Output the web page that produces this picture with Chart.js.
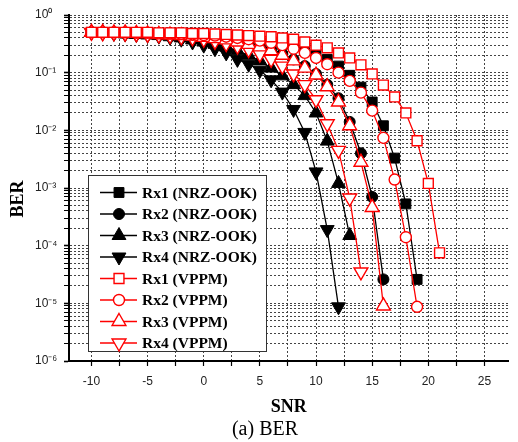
<!DOCTYPE html>
<html>
<head>
<meta charset="utf-8">
<script src="https://cdn.jsdelivr.net/npm/chart.js@4.4.1/dist/chart.umd.min.js"></script>
<style>
  html, body { margin: 0; padding: 0; background: #fff; }
  canvas { display: block; }
</style>
</head>
<body>
<canvas id="berChart" width="518" height="442"></canvas>
<script>
// SNR steps (dB), one marker per step
var snr = [-10,-9,-8,-7,-6,-5,-4,-3,-2,-1,0,1,2,3,4,5,6,7,8,9,10,11,12,13,14,15,16,17,18,19,20,21];

// BER, starting at SNR = -10
var rx1Nrz  = [0.5,0.5,0.5,0.49,0.49,0.48,0.48,0.47,0.46,0.45,0.44,0.42,0.41,0.39,0.37,0.35,0.33,0.31,0.29,0.25,0.21,0.17,0.13,0.09,0.056,0.031,0.012,0.0033,5.3e-4,2.6e-5];
var rx2Nrz  = [0.5,0.5,0.49,0.49,0.48,0.47,0.46,0.45,0.44,0.43,0.41,0.39,0.37,0.34,0.31,0.28,0.25,0.21,0.17,0.13,0.095,0.062,0.036,0.014,0.004,7e-4,2.6e-5];
var rx3Nrz  = [0.5,0.49,0.48,0.47,0.46,0.45,0.44,0.42,0.40,0.37,0.34,0.31,0.28,0.24,0.20,0.16,0.12,0.088,0.062,0.040,0.020,0.0065,0.0012,1.5e-4];
var rx4Nrz  = [0.5,0.49,0.48,0.47,0.46,0.45,0.43,0.41,0.38,0.34,0.30,0.26,0.22,0.17,0.14,0.11,0.075,0.046,0.023,0.0092,0.0019,1.9e-4,8.7e-6];
var rx1Vppm = [0.5,0.5,0.5,0.5,0.5,0.5,0.49,0.49,0.49,0.48,0.48,0.47,0.46,0.45,0.44,0.43,0.42,0.40,0.38,0.34,0.30,0.27,0.22,0.18,0.137,0.095,0.061,0.038,0.020,0.0066,0.0012,7.5e-5];
var rx2Vppm = [0.5,0.5,0.5,0.5,0.49,0.49,0.48,0.48,0.47,0.46,0.45,0.44,0.42,0.40,0.38,0.36,0.33,0.30,0.26,0.22,0.18,0.14,0.10,0.072,0.045,0.022,0.0074,0.0014,1.4e-4,8.7e-6];
var rx3Vppm = [0.5,0.5,0.49,0.49,0.48,0.47,0.46,0.45,0.44,0.43,0.41,0.39,0.37,0.34,0.31,0.28,0.24,0.20,0.16,0.12,0.091,0.057,0.031,0.012,0.0028,4.6e-4,9e-6];
var rx4Vppm = [0.5,0.49,0.49,0.48,0.47,0.46,0.45,0.44,0.42,0.40,0.38,0.35,0.32,0.29,0.25,0.21,0.17,0.13,0.095,0.062,0.034,0.013,0.0045,6.7e-4,3.5e-5];

var labels = ['Rx1 (NRZ-OOK)','Rx2 (NRZ-OOK)','Rx3 (NRZ-OOK)','Rx4 (NRZ-OOK)','Rx1 (VPPM)','Rx2 (VPPM)','Rx3 (VPPM)','Rx4 (VPPM)'];
var xTicks = [-10,-7.5,-5,-2.5,0,2.5,5,7.5,10,12.5,15,17.5,20,22.5,25];

function pts(arr) {
  return arr.map(function(v, i) { return {x: snr[i], y: v}; });
}

function sup(n) {
  var map = {'-':'\u207B','0':'\u2070','1':'\u00B9','2':'\u00B2','3':'\u00B3','4':'\u2074','5':'\u2075','6':'\u2076','7':'\u2077','8':'\u2078','9':'\u2079'};
  return String(n).split('').map(function(c){ return map[c]; }).join('');
}

function series(label, arr, color, style, rot, filled, radius, order) {
  return {
    label: label,
    data: pts(arr),
    borderColor: color,
    borderWidth: 1.3,
    pointStyle: style,
    pointRotation: rot,
    pointRadius: radius,
    pointHoverRadius: radius,
    pointBackgroundColor: filled ? color : '#fff',
    pointBorderColor: color,
    pointBorderWidth: filled ? 1 : 1.4,
    tension: 0,
    order: order
  };
}

var black = '#000', red = '#ff0000';

// black curves are drawn below the red (hollow) ones
var datasets = [
  series(labels[0], rx1Nrz, black, 'rect', 0, true, 7, 1),
  series(labels[1], rx2Nrz, black, 'circle', 0, true, 5.5, 1),
  series(labels[2], rx3Nrz, black, 'triangle', 0, true, 8, 1),
  series(labels[3], rx4Nrz, black, 'triangle', 180, true, 8, 1),
  series(labels[4], rx1Vppm, red, 'rect', 0, false, 7, 0),
  series(labels[5], rx2Vppm, red, 'circle', 0, false, 5.5, 0),
  series(labels[6], rx3Vppm, red, 'triangle', 0, false, 8, 0),
  series(labels[7], rx4Vppm, red, 'triangle', 180, false, 8, 0)
];

function isDecade(v) {
  var e = Math.log10(v);
  return Math.abs(e - Math.round(e)) < 1e-6;
}

var boxLegend = {
  id: 'boxLegend',
  beforeDatasetsDraw: function(chart) {
    var ctx = chart.ctx;
    ctx.save();
    ctx.fillStyle = '#fff';
    ctx.fillRect(88.5, 175.5, 178, 176);
    ctx.strokeStyle = '#333';
    ctx.lineWidth = 1;
    ctx.strokeRect(88.5, 175.5, 178, 176);
    ctx.font = 'bold 15.5px "Liberation Serif", "Times New Roman", serif';
    ctx.textBaseline = 'middle';
    chart.data.datasets.forEach(function(ds, i) {
      var y = 192.5 + i * 21.5;
      ctx.strokeStyle = ds.borderColor;
      ctx.lineWidth = ds.borderWidth;
      ctx.beginPath();
      ctx.moveTo(100, y);
      ctx.lineTo(137, y);
      ctx.stroke();
      ctx.fillStyle = ds.pointBackgroundColor;
      ctx.strokeStyle = ds.pointBorderColor;
      ctx.lineWidth = ds.pointBorderWidth;
      Chart.helpers.drawPoint(ctx, {
        pointStyle: ds.pointStyle,
        rotation: ds.pointRotation,
        radius: ds.pointRadius,
        borderWidth: ds.pointBorderWidth
      }, 119, y);
      ctx.fillStyle = '#000';
      ctx.fillText(ds.label, 142, y + 1);
    });
    ctx.restore();
  },
  afterDraw: function(chart) {
    var ctx = chart.ctx;
    ctx.save();
    ctx.fillStyle = '#000';
    ctx.textAlign = 'center';
    ctx.textBaseline = 'middle';
    ctx.font = 'bold 18px "Liberation Serif", "Times New Roman", serif';
    ctx.translate(18, 199);
    ctx.rotate(-Math.PI / 2);
    ctx.fillText('BER', 0, 0);
    ctx.restore();
    ctx.save();
    ctx.fillStyle = '#000';
    ctx.textAlign = 'center';
    ctx.textBaseline = 'middle';
    ctx.font = '20px "Liberation Serif", "Times New Roman", serif';
    ctx.fillText('(a) BER', 265, 430);
    ctx.restore();
  }
};

var berChart = new Chart(document.getElementById('berChart'), {
  type: 'line',
  data: { datasets: datasets },
  plugins: [boxLegend],
  options: {
    responsive: false,
    animation: false,
    layout: { padding: { left: 35, top: 15, right: 0, bottom: 0 } },
    plugins: {
      legend: { display: false },
      tooltip: { enabled: false }
    },
    scales: {
      x: {
        type: 'linear',
        min: -12,
        max: 27.15,
        afterBuildTicks: function(scale) {
          scale.ticks = xTicks.map(function(v) { return {value: v}; });
        },
        afterFit: function(scale) { scale.height = 81; },
        ticks: {
          autoSkip: false,
          maxRotation: 0,
          padding: 8,
          color: '#222',
          font: { family: '"Liberation Sans", Arial, sans-serif', size: 12 },
          callback: function(v) { return v % 5 === 0 ? String(v) : ''; }
        },
        grid: {
          color: '#444',
          lineWidth: 1,
          tickLength: 5,
          tickColor: '#000',
          tickWidth: 1.2,
          tickBorderDash: []
        },
        border: { display: true, color: '#000', width: 2, dash: [2, 2] },
        title: {
          display: true,
          text: 'SNR',
          color: '#000',
          font: { family: '"Liberation Serif", "Times New Roman", serif', size: 18, weight: 'bold' },
          padding: { top: 0, bottom: 24 }
        }
      },
      y: {
        type: 'logarithmic',
        min: 1e-6,
        max: 1,
        afterBuildTicks: function(scale) {
          var t = [];
          for (var e = -6; e < 0; e++) {
            for (var m = 1; m < 10; m++) {
              t.push({value: Number((m * Math.pow(10, e)).toPrecision(3))});
            }
          }
          t.push({value: 1});
          scale.ticks = t;
        },
        afterFit: function(scale) { scale.width = 34; },
        ticks: {
          autoSkip: false,
          crossAlign: 'far',
          color: '#222',
          font: { family: '"Liberation Sans", Arial, sans-serif', size: 12 },
          callback: function(v) {
            return isDecade(v) ? '10' + sup(Math.round(Math.log10(v))) : '';
          }
        },
        grid: {
          color: '#444',
          lineWidth: 1,
          tickLength: 5,
          tickColor: '#000',
          tickWidth: function(c) { return c.tick && isDecade(c.tick.value) ? 1.6 : 1; },
          tickBorderDash: []
        },
        border: { display: true, color: '#000', width: 2, dash: [2, 2] }
      }
    }
  }
});
</script>
</body>
</html>
